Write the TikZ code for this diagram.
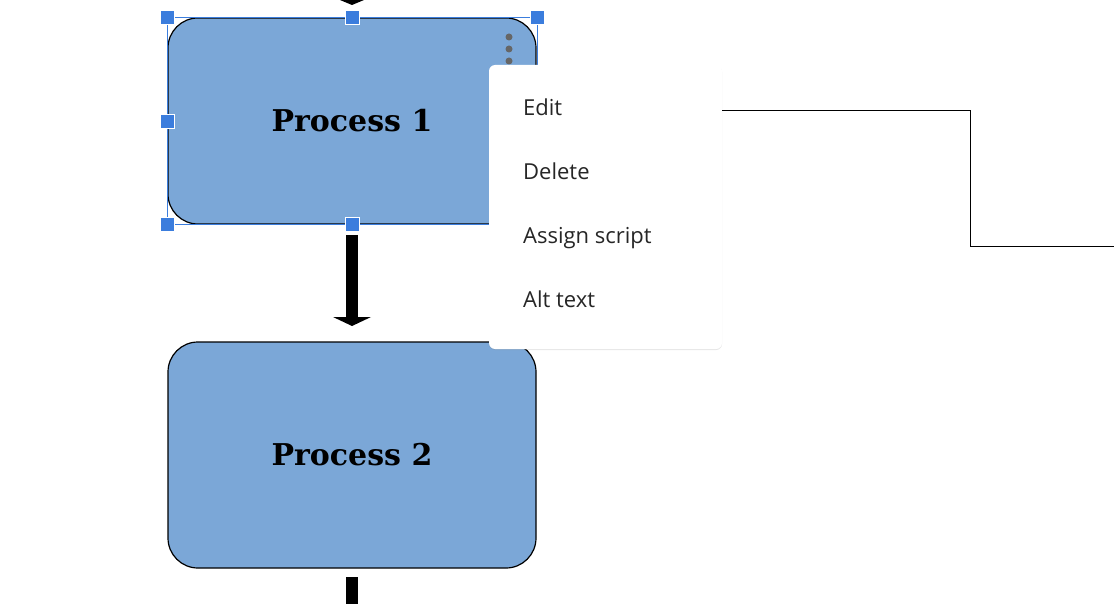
\documentclass[tikz,border=0pt]{standalone}
\usepackage{fontspec}
\setmainfont{DejaVu Serif}
\newfontfamily\menufont{Open Sans}
\usetikzlibrary{shadows}
\definecolor{boxblue}{HTML}{7BA7D7}
\definecolor{selblue}{HTML}{3B7DDD}
\begin{document}
\begin{tikzpicture}[x=1pt,y=-1pt,
  proc/.style={draw=black,line width=1.2pt,fill=boxblue,rounded corners=30pt,minimum width=368pt,inner sep=0pt,font=\fontsize{30}{34}\selectfont\bfseries},
  handle/.style={fill=selblue,draw=white,line width=0.8pt,minimum size=14pt,inner sep=0pt},
  item/.style={anchor=west,inner sep=0pt,text height=16pt,text depth=5pt,font=\menufont\fontsize{22}{26}\selectfont,text=black!85},
  shaft/.style={line width=12pt}]
\useasboundingbox (0,0) rectangle (1114,604);
% top arrow stub
\fill (340,0) -- (364,0) -- (352,5) -- cycle;
\node[proc,minimum height=206pt] (p1) at (352,121) {Process 1};
\node[proc,minimum height=226pt] (p2) at (352,455) {Process 2};
% selection
\draw[selblue,line width=0.9pt] (167,17) rectangle (537,224);
\foreach \n/\x/\y in {h1/167/17,h2/352/17,h3/537/17,h4/167/121,h5/167/224,h6/352/224}
  \node[handle] (\n) at (\x,\y) {};
\foreach \y in {37,49,61} \fill[black!60] (509,\y) circle (3.5pt);
% arrows
\coordinate (a1) at (352,235);
\coordinate (a2) at (352,318);
\draw[shaft] (a1) -- (a2);
\fill (333,317) -- (371,317) -- (352,326) -- cycle;
\coordinate (b1) at (352,577);
\coordinate (b2) at (352,604);
\draw[shaft] (b1) -- (b2);
% menu
\node[fill=white,rounded corners=6pt,minimum width=233pt,minimum height=284pt,inner sep=0pt,
  drop shadow={shadow xshift=0pt,shadow yshift=-1pt,opacity=0.2,fill=black!50}] (menu) at (605.5,207) {};
\node[item] (edit) at (523,110) {Edit};
\node[item] (del) at (523,174) {Delete};
\node[item] (assign) at (523,238) {Assign script};
\node[item] (alt) at (523,302) {Alt text};
\coordinate (c1) at (970,111);
\coordinate (c2) at (970,247);
\coordinate (c3) at (1114,247);
\draw[line width=1pt] (menu.east |- c1) -- (c1) -- (c2) -- (c3);
\end{tikzpicture}
\end{document}
